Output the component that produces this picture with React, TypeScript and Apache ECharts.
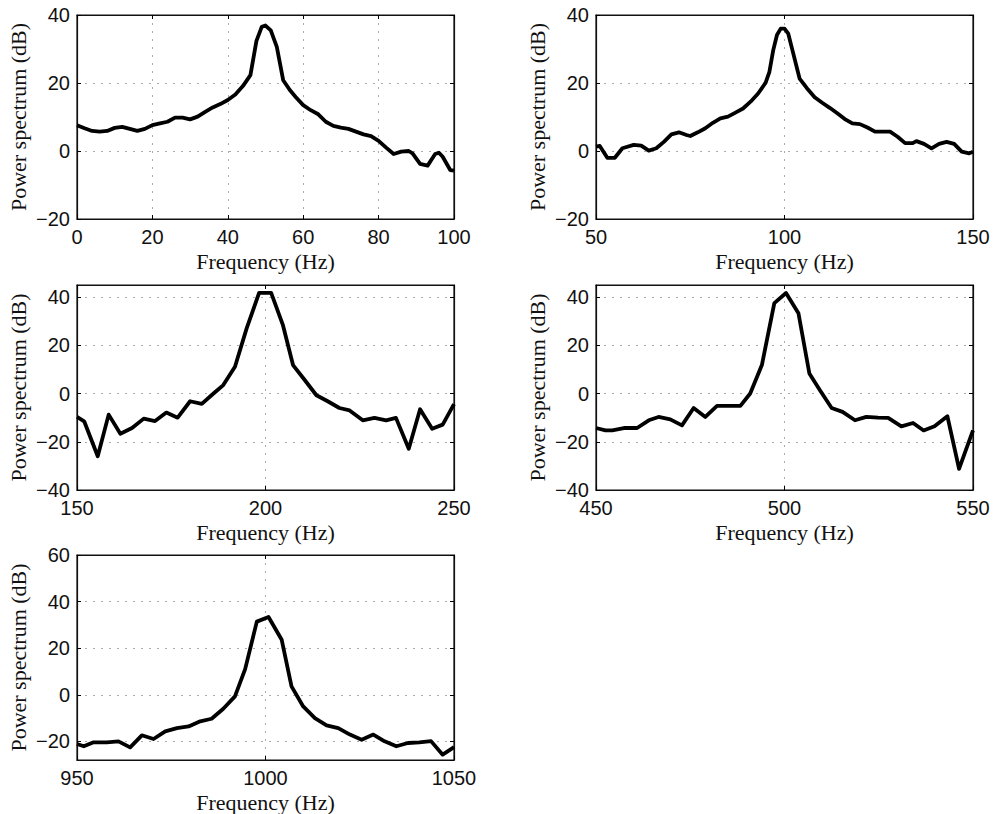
import React, { useEffect, useRef } from "react";
import * as echarts from "echarts";

// Plot 1: 0–100 Hz
const freq1 = [0, 2, 4, 6, 8, 10, 12, 14, 16, 18, 20, 22, 24, 26, 28, 30, 32, 34, 36, 38, 40, 42, 44, 46, 47.6, 49, 50, 51.4, 53, 54.7, 56.4, 58, 60, 62, 64, 66, 68, 70, 72, 74, 76, 78, 80, 82, 84, 86, 88, 89, 91, 93, 95, 96, 97, 99, 100];
const power1 = [7.6, 6.7, 5.9, 5.7, 5.9, 6.8, 7.1, 6.5, 5.9, 6.5, 7.6, 8.1, 8.6, 9.8, 9.8, 9.3, 10.1, 11.5, 12.8, 13.8, 15.0, 16.6, 19.1, 22.3, 32.4, 36.5, 36.9, 35.5, 30.6, 20.8, 18.0, 15.9, 13.5, 12.0, 10.8, 8.6, 7.4, 6.9, 6.5, 5.7, 4.9, 4.4, 3.0, 1.0, -0.9, -0.2, 0, -0.7, -3.8, -4.3, -0.9, -0.5, -1.7, -5.6, -5.8];

// Plot 2: 50–150 Hz
const freq2 = [50, 51, 53, 55, 57, 60, 62, 64, 66, 68, 70, 72, 74, 75, 77, 79, 81, 83, 85, 87, 89, 91, 93, 95, 96, 97, 98, 99, 100, 101, 102, 104, 106, 108, 110, 112, 114, 116, 118, 120, 122, 124, 126, 128, 130, 132, 134, 135, 137, 139, 141, 143, 145, 147, 149, 150];
const power2 = [1.3, 1.5, -2.0, -2.0, 0.8, 1.8, 1.6, 0.1, 0.8, 2.7, 4.9, 5.5, 4.7, 4.4, 5.5, 6.7, 8.3, 9.6, 10.1, 11.3, 12.5, 14.5, 16.9, 20.1, 23.3, 29.6, 34.1, 36.0, 36.0, 34.5, 30.1, 21.3, 18.4, 15.8, 14.2, 12.7, 11.1, 9.4, 8.1, 7.9, 6.9, 5.7, 5.7, 5.7, 4.2, 2.3, 2.3, 2.9, 2.1, 0.8, 2.1, 2.7, 2.1, -0.2, -0.7, -0.2];

// Plot 3: 150–250 Hz
const freq3 = [150, 151.9, 155.5, 158.4, 161.5, 164.6, 167.7, 170.7, 173.7, 176.7, 180, 183.1, 186.2, 188.8, 191.9, 195, 198.3, 201.5, 204.6, 207.3, 210.4, 213.5, 216.5, 219.6, 222.3, 225.8, 228.9, 232, 234.6, 238, 241, 244.2, 247, 250];
const power3 = [-9.7, -11.5, -26, -8.75, -16.7, -14.3, -10.4, -11.4, -7.9, -10, -3.2, -4.3, 0, 3.5, 11.1, 27, 41.7, 41.7, 28.5, 11.8, 5.6, -0.7, -3.2, -6, -7, -11.1, -10.1, -11.1, -10.1, -22.9, -6.5, -14.6, -12.9, -4.4];

// Plot 4: 450–550 Hz
const freq4 = [450, 452.5, 454.3, 457.4, 460.9, 464, 466.6, 469.7, 472.8, 475.9, 479, 482.1, 485.2, 488.3, 490.9, 494, 497.3, 500.4, 503.7, 506.6, 509.4, 512.5, 515.4, 518.7, 521.7, 524.8, 527.5, 531, 534.1, 536.9, 539.8, 543.2, 546.3, 550];
const power4 = [-14.3, -15.3, -15.3, -14.3, -14.3, -11.1, -9.7, -10.7, -13.2, -6, -9.7, -5.1, -5.1, -5.1, 0, 11.8, 37.5, 41.7, 33.3, 8.3, 1.4, -6, -7.6, -11.1, -9.7, -10, -10.1, -13.6, -12.2, -15.3, -13.6, -9.4, -31.2, -15.3];

// Plot 5: 950–1050 Hz
const freq5 = [950, 951.8, 954.4, 957.9, 961, 964.1, 967.2, 970.3, 973.4, 976.5, 979.6, 982.7, 985.7, 988.8, 991.9, 994.6, 997.7, 1000.8, 1004.3, 1006.9, 1010, 1013.1, 1016.2, 1019.3, 1022.4, 1025.5, 1028.6, 1031.6, 1034.7, 1037.8, 1040.8, 1043.9, 1047, 1050];
const power5 = [-21.1, -22.1, -20.4, -20.4, -20, -22.6, -17.4, -19, -15.7, -14.3, -13.6, -11.4, -10.3, -6, -0.7, 11, 31.4, 33.4, 23.6, 3.6, -5, -10, -13.1, -14.3, -17.1, -19.3, -17.1, -20, -22.1, -20.7, -20.4, -19.9, -25.7, -22.5];

const freqs = [freq1, freq2, freq3, freq4, freq5];
const powers = [power1, power2, power3, power4, power5];

// axis ranges: [min, max, interval]
const xRanges: [number, number, number][] = [
  [0, 100, 20],
  [50, 150, 50],
  [150, 250, 50],
  [450, 550, 50],
  [950, 1050, 50],
];
const yRanges: [number, number, number | undefined][] = [
  [-20, 40, 20],
  [-20, 40, 20],
  [-40, 45, 20],
  [-40, 45, 20],
  [-28, 60, undefined],
];

const xName = "Frequency (Hz)";
const yName = "Power spectrum (dB)";

const rects = [
  { left: 77, top: 15, width: 377, height: 204 },
  { left: 596, top: 15, width: 377, height: 204 },
  { left: 77, top: 285, width: 377, height: 205 },
  { left: 596, top: 285, width: 377, height: 205 },
  { left: 77, top: 555, width: 377, height: 205 },
];

const fmt = (v: number) => (v < 0 ? "\u2212" + Math.abs(v) : String(v));

export default function App() {
  const ref = useRef<HTMLDivElement>(null);
  useEffect(() => {
    if (!ref.current) return;
    const chart = echarts.init(ref.current, undefined, { renderer: "svg" });
    const grids: any[] = [];
    const xAxes: any[] = [];
    const yAxes: any[] = [];
    const series: any[] = [];
    const split = { show: true, lineStyle: { color: "#aaaaaa", type: [2, 6], width: 1 } };
    const tick = { show: true, inside: true, length: 4, lineStyle: { color: "#000", width: 1 } };
    const line = { show: true, onZero: false, lineStyle: { color: "#111", width: 1.2 } };
    const labelStyle = { color: "#111", fontFamily: "Liberation Sans", fontSize: 20 };
    const nameStyle = { color: "#111", fontFamily: "Liberation Serif", fontSize: 22 };
    rects.forEach((r, i) => {
      grids.push({ ...r, show: true, borderColor: "#111", borderWidth: 1.2, backgroundColor: "#fff" });
      const [xmin, xmax, xint] = xRanges[i];
      const [ymin, ymax, yint] = yRanges[i];
      xAxes.push({
        type: "value", gridIndex: i, min: xmin, max: xmax, interval: xint, position: "bottom",
        name: xName, nameLocation: "middle", nameGap: 31, nameTextStyle: nameStyle,
        axisLine: line, axisTick: tick,
        axisLabel: { ...labelStyle, margin: 8, formatter: fmt },
        splitLine: split,
      });
      xAxes.push({
        type: "value", gridIndex: i, min: xmin, max: xmax, interval: xint, position: "top",
        axisLine: line, axisTick: tick, axisLabel: { show: false }, splitLine: { show: false },
      });
      const yBase: any = { type: "value", gridIndex: i, min: ymin, max: ymax };
      if (yint !== undefined) yBase.interval = yint; else yBase.splitNumber = 5;
      yAxes.push({
        ...yBase, position: "left",
        name: yName, nameLocation: "middle", nameGap: 48, nameRotate: 90, nameTextStyle: nameStyle,
        axisLine: line, axisTick: tick,
        axisLabel: {
          ...labelStyle, margin: 7, formatter: fmt,
          showMinLabel: i !== 4, showMaxLabel: !(i === 2 || i === 3),
        },
        splitLine: split,
      });
      yAxes.push({
        ...yBase, position: "right",
        axisLine: line, axisTick: tick, axisLabel: { show: false }, splitLine: { show: false },
      });
      series.push({
        type: "line", xAxisIndex: 2 * i, yAxisIndex: 2 * i,
        data: freqs[i].map((f, j) => [f, powers[i][j]]),
        showSymbol: false, symbol: "none", smooth: false,
        lineStyle: { color: "#000", width: 3.8, join: "round" },
      });
    });
    chart.setOption({
      animation: false,
      backgroundColor: "#fff",
      grid: grids,
      xAxis: xAxes,
      yAxis: yAxes,
      series,
    });
    return () => chart.dispose();
  }, []);
  return (
    <div
      ref={ref}
      style={{ position: "absolute", left: 0, top: 0, width: 1000, height: 814, background: "#fff" }}
    />
  );
}
